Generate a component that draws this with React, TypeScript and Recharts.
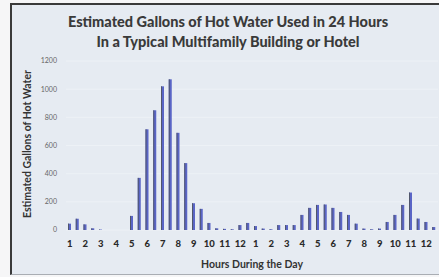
import React from 'react';
import { BarChart, Bar, XAxis, YAxis, CartesianGrid } from 'recharts';

const hourLabels = ['1','2','3','4','5','6','7','8','9','10','11','12','1','2','3','4','5','6','7','8','9','10','11','12'];
const halfHours = [':00', ':30'];
const gallons = [
  45, 80, 40, 12, 3, 0, 0, 0,
  100, 370, 715, 850, 1020, 1070, 690, 475,
  190, 150, 50, 12, 8, 5, 35, 50,
  28, 10, 5, 35, 35, 35, 107, 157,
  178, 181, 157, 128, 107, 45, 10, 5,
  10, 57, 107, 178, 266, 81, 57, 21,
];
const yTicks = [0, 200, 400, 600, 800, 1000, 1200];

const slots = hourLabels.flatMap((h, i) => halfHours.map((m) => `${i}|${h}${m}`));
const data = slots.map((slot, i) => ({ slot, gallons: gallons[i] }));

const BarShape = (props: any) => {
  const { x, y, width, height } = props;
  if (!height || height <= 0) return null;
  return (
    <g>
      <rect x={x} y={y} width={width} height={height} fill="#5a65c6" />
      <rect x={x} y={y} width={1} height={height} fill="#50566c" />
    </g>
  );
};

export default function App() {
  return (
    <div style={{ position: 'absolute', left: 0, top: 0, width: 439, height: 277, background: '#f6f6f7', overflow: 'hidden' }}>
      <div style={{ position: 'absolute', left: 10, top: 3, width: 440, height: 269, background: '#e6ebf2', borderLeft: '2px solid #3a3a3a', borderTop: '2px solid #3a3a3a', borderBottom: '1px solid #a9adb3' }} />
      <div style={{ position: 'absolute', left: 0, width: 456, top: 12, textAlign: 'center', fontFamily: 'Lato, sans-serif', fontWeight: 900, fontSize: 14.5, lineHeight: '20px', color: '#3a3a3a' }}>
        <div>Estimated Gallons of Hot Water Used in 24 Hours</div>
        <div>In a Typical Multifamily Building or Hotel</div>
      </div>
      <div style={{ position: 'absolute', left: 27, top: 144, width: 0, height: 0 }}>
        <div style={{ position: 'absolute', left: 0, top: 0, transform: 'translate(-50%, -50%) rotate(-90deg)', whiteSpace: 'nowrap', fontFamily: 'Lato, sans-serif', fontWeight: 700, fontSize: 10.5, color: '#333' }}>
          Estimated Gallons of Hot Water
        </div>
      </div>
      <div style={{ position: 'absolute', left: 252, top: 264, width: 0, height: 0 }}>
        <div style={{ position: 'absolute', left: 0, top: 0, transform: 'translate(-50%, -50%)', whiteSpace: 'nowrap', fontFamily: 'Lato, sans-serif', fontWeight: 700, fontSize: 10.5, color: '#333' }}>
          Hours During the Day
        </div>
      </div>
      <div style={{ position: 'absolute', left: 0, top: 0 }}>
        <BarChart width={439} height={277} data={data} margin={{ top: 61, right: 1, left: 36, bottom: 27 }} barCategoryGap={0}>
          <CartesianGrid vertical={false} stroke="#edf1f6" strokeWidth={1} />
          <XAxis
            dataKey="slot"
            interval={1}
            axisLine={false}
            tickLine={false}
            tickSize={0}
            tickMargin={10}
            height={20}
            tickFormatter={(v: string) => v.split('|')[1].split(':')[0]}
            tick={{ fontFamily: 'Lato, sans-serif', fontWeight: 900, fontSize: 9.5, fill: '#2a2a2a' }}
          />
          <YAxis
            domain={[0, 1200]}
            ticks={yTicks}
            width={30}
            axisLine={false}
            tickLine={false}
            tickSize={0}
            tickMargin={9}
            tick={{ fontFamily: 'Lato, sans-serif', fontSize: 7, fill: '#666' }}
          />
          <Bar dataKey="gallons" barSize={3} shape={BarShape} isAnimationActive={false} />
        </BarChart>
      </div>
    </div>
  );
}
